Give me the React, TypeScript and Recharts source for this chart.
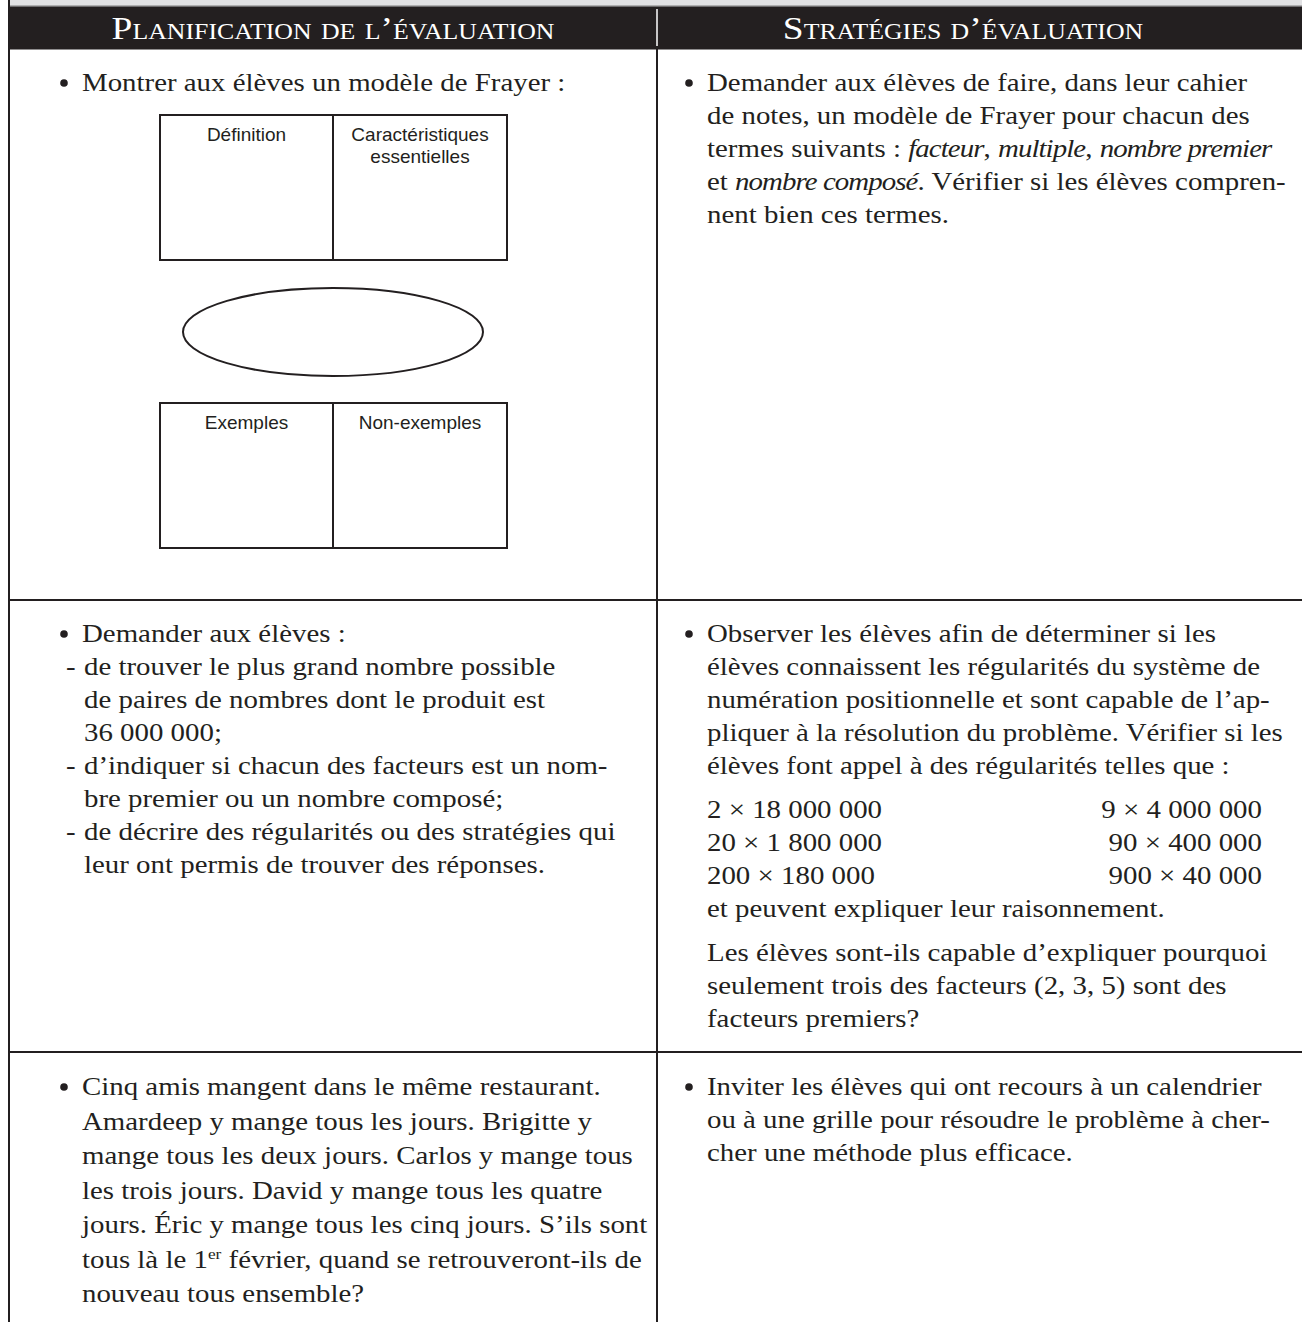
import React from "react";
import { Surface, Layer, Rectangle, Text } from "recharts";

// column headings
const headings = ["Planification de l\u2019évaluation", "Stratégies d\u2019évaluation"];

// row 1
const row1Left = ["Montrer aux élèves un modèle de Frayer :"];
const frayerTop = ["Définition", "Caractéristiques|essentielles"];
const frayerBottom = ["Exemples", "Non-exemples"];
const row1Right = [
  "Demander aux élèves de faire, dans leur cahier",
  "de notes, un modèle de Frayer pour chacun des",
  "termes suivants : *facteur*, *multiple*, *nombre premier*",
  "et *nombre composé*. Vérifier si les élèves compren-",
  "nent bien ces termes.",
];

// row 2
const row2Left = [
  "Demander aux élèves :",
  "- de trouver le plus grand nombre possible",
  "  de paires de nombres dont le produit est",
  "  36 000 000;",
  "- d\u2019indiquer si chacun des facteurs est un nom-",
  "  bre premier ou un nombre composé;",
  "- de décrire des régularités ou des stratégies qui",
  "  leur ont permis de trouver des réponses.",
];
const row2Right = [
  "Observer les élèves afin de déterminer si les",
  "élèves connaissent les régularités du système de",
  "numération positionnelle et sont capable de l\u2019ap-",
  "pliquer à la résolution du problème. Vérifier si les",
  "élèves font appel à des régularités telles que :",
];
const productsLeft = ["2 × 18 000 000", "20 × 1 800 000", "200 × 180 000"];
const productsRight = ["9 × 4 000 000", "90 × 400 000", "900 × 40 000"];
const row2After = ["et peuvent expliquer leur raisonnement."];
const row2Question = [
  "Les élèves sont-ils capable d\u2019expliquer pourquoi",
  "seulement trois des facteurs (2, 3, 5) sont des",
  "facteurs premiers?",
];

// row 3
const row3Left = [
  "Cinq amis mangent dans le même restaurant.",
  "Amardeep y mange tous les jours. Brigitte y",
  "mange tous les deux jours. Carlos y mange tous",
  "les trois jours. David y mange tous les quatre",
  "jours. Éric y mange tous les cinq jours. S\u2019ils sont",
  "tous là le 1^er^ février, quand se retrouveront-ils de",
  "nouveau tous ensemble?",
];
const row3Right = [
  "Inviter les élèves qui ont recours à un calendrier",
  "ou à une grille pour résoudre le problème à cher-",
  "cher une méthode plus efficace.",
];

const W = 1302;
const H = 1322;
const LEFT = 9;
const MID = 657;
const HEAD_TOP = 6;
const HEAD_BOTTOM = 49;
const ROW_LINES = [600, 1052];
const STEP = 33;
const SERIF = "'Liberation Serif', 'Times New Roman', serif";
const SANS = "'Liberation Sans', Arial, sans-serif";
const INK = "#231f20";
const FS = 25;
const SX = 1.155; // widen Times towards the book face

// *italic* and ^superscript^ markup
function Rich({ x, y, text, anchor = "start" }: { x: number; y: number; text: string; anchor?: string }) {
  const parts = text.split(/(\*[^*]+\*|\^[^^]+\^)/).filter((p) => p.length > 0);
  return (
    <text
      x={0}
      y={0}
      transform={`translate(${x},${y}) scale(${SX},1)`}
      fontFamily={SERIF}
      fontSize={FS}
      fill={INK}
      textAnchor={anchor}
      style={{ whiteSpace: "pre" }}
    >
      {parts.map((p, i) => {
        if (p.startsWith("*"))
          return (
            <tspan key={i} fontStyle="italic" letterSpacing={-0.8}>
              {p.slice(1, -1)}
            </tspan>
          );
        if (p.startsWith("^"))
          return (
            <tspan key={i} fontSize={FS * 0.6} dy={-9}>
              {p.slice(1, -1)}
            </tspan>
          );
        const prev = parts[i - 1];
        return (
          <tspan key={i} dy={prev && prev.startsWith("^") ? 9 : undefined}>
            {p}
          </tspan>
        );
      })}
    </text>
  );
}

function Block({
  x,
  y,
  lines,
  bullet = true,
  dash = false,
  step = STEP,
}: {
  x: number;
  y: number;
  lines: string[];
  bullet?: boolean;
  dash?: boolean;
  step?: number;
}) {
  return (
    <Layer>
      {bullet && <circle cx={x - 18} cy={y - 8} r={3.8} fill={INK} />}
      {lines.map((l, i) => {
        const ly = y + i * step;
        if (dash && l.startsWith("- ")) {
          return (
            <Layer key={i}>
              <Rich x={x - 16} y={ly} text="-" />
              <Rich x={x + 2} y={ly} text={l.slice(2)} />
            </Layer>
          );
        }
        const indented = l.startsWith("  ");
        return <Rich key={i} x={indented ? x + 2 : x} y={ly} text={l.replace(/^  /, "")} />;
      })}
    </Layer>
  );
}

function Frayer() {
  const x0 = 160;
  const x1 = 333;
  const x2 = 507;
  const boxes = [
    { top: 115, bottom: 260, labels: frayerTop },
    { top: 403, bottom: 548, labels: frayerBottom },
  ];
  return (
    <Layer>
      {boxes.map((b, bi) => (
        <Layer key={bi}>
          <Rectangle x={x0} y={b.top} width={x2 - x0} height={b.bottom - b.top} fill="none" stroke={INK} strokeWidth={2} />
          <line x1={x1} y1={b.top} x2={x1} y2={b.bottom} stroke={INK} strokeWidth={2} />
          {b.labels.map((lab, li) => {
            const cx = li === 0 ? (x0 + x1) / 2 : (x1 + x2) / 2;
            return lab.split("|").map((t, ti) => (
              <Text
                key={`${li}-${ti}`}
                x={cx}
                y={b.top + 26 + ti * 22}
                textAnchor="middle"
                fontFamily={SANS}
                fontSize={19}
                fill={INK}
              >
                {t}
              </Text>
            ));
          })}
        </Layer>
      ))}
      <ellipse cx={x1} cy={332} rx={150} ry={44} fill="none" stroke={INK} strokeWidth={2} />
    </Layer>
  );
}

export default function App() {
  const lx = 82;
  const rx = 707;
  const headX = [(LEFT + MID) / 2, 963];
  return (
    <div style={{ position: "absolute", left: 0, top: 0, width: W, height: H, background: "#fff" }}>
      <Surface width={W} height={H} viewBox={{ x: 0, y: 0, width: W, height: H }}>
        {/* top grey band */}
        <rect x={LEFT} y={0} width={W - LEFT} height={HEAD_TOP} fill="#e1e1e3" />
        <line x1={LEFT} y1={HEAD_TOP} x2={W} y2={HEAD_TOP} stroke="#7a7a7a" strokeWidth={1} />
        {/* header */}
        <rect x={LEFT} y={HEAD_TOP + 0.5} width={W - LEFT} height={HEAD_BOTTOM - HEAD_TOP} fill={INK} />
        <line x1={MID} y1={HEAD_TOP + 3} x2={MID} y2={HEAD_BOTTOM - 3} stroke="#ffffff" strokeWidth={1.5} />
        {headings.map((h, i) => (
          <text
            key={i}
            x={0}
            y={0}
            transform={`translate(${headX[i]},39) scale(1.17,1)`}
            textAnchor="middle"
            fontFamily={SERIF}
            fontSize={32}
            fill="#ffffff"
            style={{ fontVariant: "small-caps" }}
          >
            {h}
          </text>
        ))}
        {/* grid lines */}
        <line x1={LEFT} y1={0} x2={LEFT} y2={H} stroke={INK} strokeWidth={2} />
        <line x1={MID} y1={HEAD_BOTTOM} x2={MID} y2={H} stroke={INK} strokeWidth={2} />
        {ROW_LINES.map((y) => (
          <line key={y} x1={LEFT} y1={y} x2={W} y2={y} stroke={INK} strokeWidth={2} />
        ))}

        {/* row 1 */}
        <Block x={lx} y={91} lines={row1Left} />
        <Frayer />
        <Block x={rx} y={91} lines={row1Right} />

        {/* row 2 */}
        <Block x={lx} y={642} lines={row2Left} dash />
        <Block x={rx} y={642} lines={row2Right} />
        {productsLeft.map((p, i) => (
          <Rich key={`pl${i}`} x={rx} y={818 + i * STEP} text={p} />
        ))}
        {productsRight.map((p, i) => (
          <Rich key={`pr${i}`} x={1262} y={818 + i * STEP} text={p} anchor="end" />
        ))}
        <Block x={rx} y={917} lines={row2After} bullet={false} />
        <Block x={rx} y={961} lines={row2Question} bullet={false} />

        {/* row 3 */}
        <Block x={lx} y={1095} lines={row3Left} step={34.5} />
        <Block x={rx} y={1095} lines={row3Right} />
      </Surface>
    </div>
  );
}
